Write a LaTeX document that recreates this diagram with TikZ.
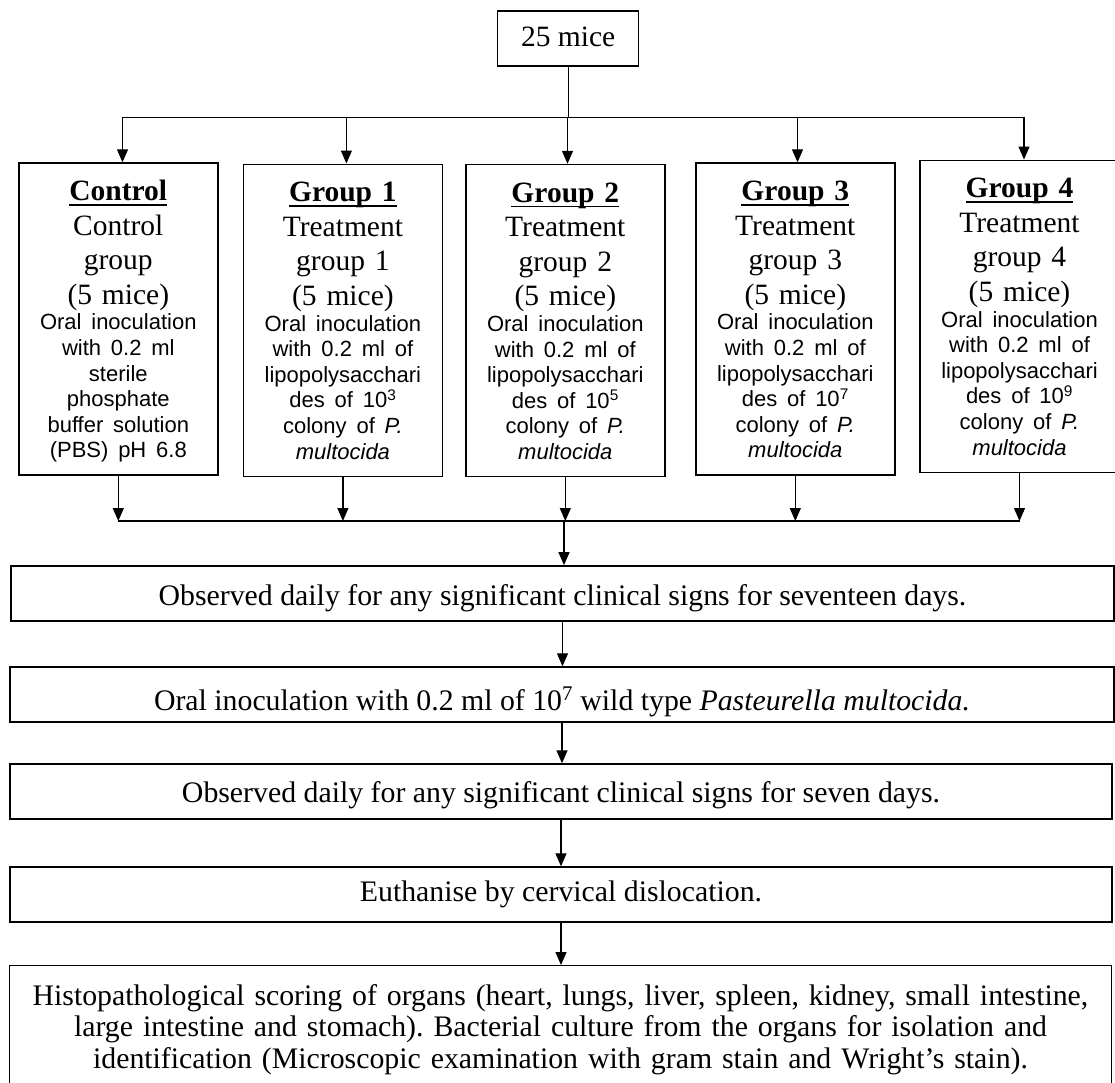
\documentclass[tikz,border=0pt]{standalone}
\usepackage{fontspec}
\setmainfont{Liberation Serif}
\setsansfont{Liberation Sans}
\usetikzlibrary{arrows.meta}
\frenchspacing
\newcommand{\grouptitle}[1]{\setbox0=\hbox{\bfseries #1}\leavevmode\rlap{\rule[-5pt]{\wd0}{1.5pt}}\box0}
\newcommand{\serifsz}{\fontsize{29.5}{34.6}\selectfont}
\newcommand{\stagesz}{\fontsize{29.8}{31.7}\selectfont}
\newcommand{\sanssz}{\sffamily\fontsize{22}{25.6}\selectfont}
\newcommand{\grptext}[2]{\centering\grouptitle{Group #1}\par Treatment\par group #1\par (5 mice)\par\sanssz Oral inoculation\par with 0.2 ml of\par lipopolysacchari\par des of 10\textsuperscript{#2}\par colony of \textit{P.}\par\textit{multocida}\par}
\begin{document}
\begin{tikzpicture}[x=1pt,y=-1pt,
  box/.style={draw, line width=1.4pt, inner sep=0pt, font=\serifsz},
  grp/.style={box, minimum width=199pt, minimum height=312pt, text width=192pt, align=center, text height=37.5pt, text depth=274.5pt},
  stage/.style={box, minimum width=1103pt, minimum height=55pt, font=\stagesz},
  arr/.style={line width=1.2pt, -{Triangle[length=13pt,width=11pt]}},
  ln/.style={line width=1.2pt}]
\clip (0,0) rectangle (1115,1082);

\node[box, minimum width=141pt, minimum height=55pt, text height=35pt, text depth=20pt] (top) at (568.2,38.5) {25 mice};

\node[grp] (n0) at (118.3,319) {\centering\grouptitle{Control}\par Control\par group\par (5 mice)\par\sanssz Oral inoculation\par with 0.2 ml\par sterile\par phosphate\par buffer solution\par (PBS) pH 6.8\par};
\node[grp] (n1) at (342.9,320.2) {\grptext{1}{3}};
\node[grp] (n2) at (565.3,320.5) {\grptext{2}{5}};
\node[grp] (n3) at (795.3,319) {\grptext{3}{7}};
\node[grp] (n4) at (1019.5,316.2) {\grptext{4}{9}};

\coordinate (t0) at (122.5,117.3);
\coordinate (t1) at (346.4,117.3);
\coordinate (t2) at (567.5,117.3);
\coordinate (t3) at (797.5,117.3);
\coordinate (t4) at (1024,117.3);
\draw[ln] (top.south) -- (top.south |- t0);
\draw[ln] (t0) -- (t4);
\foreach \i in {0,...,4}{\draw[arr] (t\i) -- (t\i |- n\i.north);}

\node[stage, text height=39pt, text depth=15.7pt] (b1) at (562.5,593.35) {Observed daily for any significant clinical signs for seventeen days.};
\node[stage, minimum width=1104pt, text height=43pt, text depth=12pt] (b2) at (562,694.5) {Oral inoculation with 0.2 ml of 10\textsuperscript{7} wild type \textit{Pasteurella multocida.}};
\node[stage, minimum width=1102pt, text height=38.4pt, text depth=16pt] (b3) at (561,791.5) {Observed daily for any significant clinical signs for seven days.};
\node[stage, minimum width=1102pt, text height=34.7pt, text depth=20.3pt] (b4) at (561,894.5) {Euthanise by cervical dislocation.};
\node[box, minimum width=1102.4pt, minimum height=134.3pt, text width=1090pt, align=center, text height=39.3pt, text depth=95pt, font=\stagesz] (b5) at (560.5,1032.85) {\centering Histopathological scoring of organs (heart, lungs, liver, spleen, kidney, small intestine,\par large intestine and stomach). Bacterial culture from the organs for isolation and\par identification (Microscopic examination with gram stain and Wright's stain).\par};

\coordinate (m) at (564,521);
\foreach \i in {0,...,4}{\draw[arr] (n\i.south) -- (n\i.south |- m);}
\draw[ln] (n0.south |- m) -- (n4.south |- m);
\draw[arr] (m) -- (m |- b1.north);
\draw[arr] (b1.south) -- (b1.south |- b2.north);
\draw[arr] (b2.south) -- (b2.south |- b3.north);
\draw[arr] (b3.south) -- (b3.south |- b4.north);
\draw[arr] (b4.south) -- (b4.south |- b5.north);
\end{tikzpicture}
\end{document}
